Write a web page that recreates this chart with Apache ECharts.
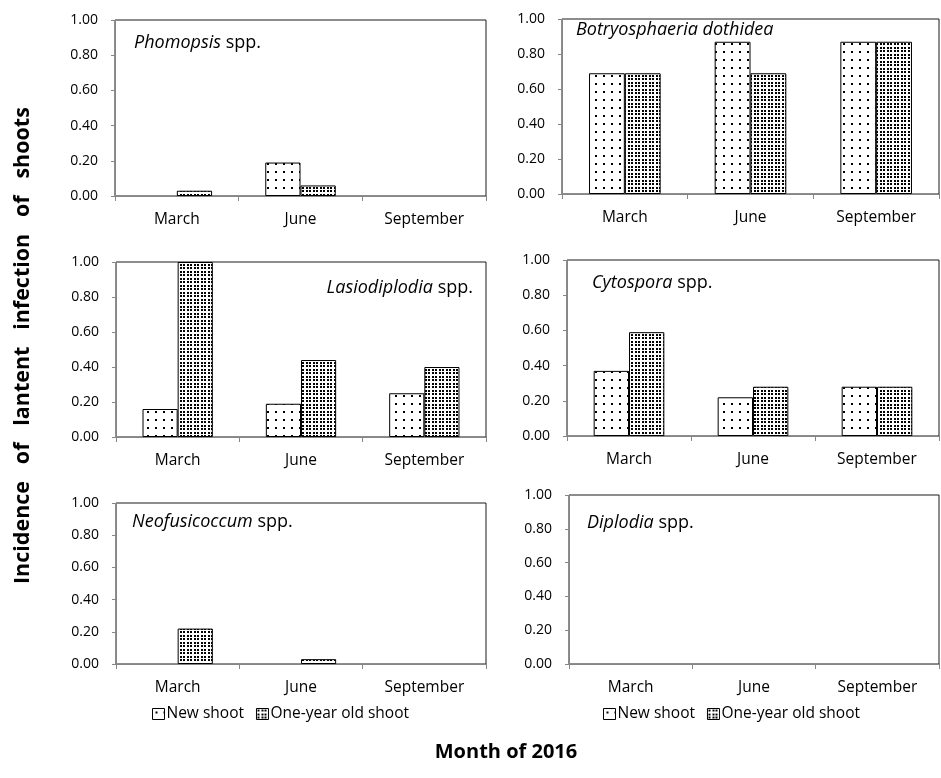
<!DOCTYPE html>
<html>
<head>
<meta charset="utf-8">
<script src="https://cdn.jsdelivr.net/npm/echarts@6/dist/echarts.min.js"></script>
<style>
  html, body { margin: 0; padding: 0; background: #fff; }
  #chart { width: 941px; height: 778px; }
</style>
</head>
<body>
<div id="chart"></div>
<script>
// Sampling months
const months = ['March', 'June', 'September'];

// Incidence of latent infection per genus: new shoots vs one-year old shoots
const phomopsisNew = [0.00, 0.19, 0.00];
const phomopsisOld = [0.03, 0.06, 0.00];
const botryosphaeriaNew = [0.69, 0.87, 0.87];
const botryosphaeriaOld = [0.69, 0.69, 0.87];
const lasiodiplodiaNew = [0.16, 0.19, 0.25];
const lasiodiplodiaOld = [1.00, 0.44, 0.40];
const cytosporaNew = [0.37, 0.22, 0.28];
const cytosporaOld = [0.59, 0.28, 0.28];
const neofusicoccumNew = [0.00, 0.00, 0.00];
const neofusicoccumOld = [0.22, 0.03, 0.00];
const diplodiaNew = [0.00, 0.00, 0.00];
const diplodiaOld = [0.00, 0.00, 0.00];

// Y tick labels
const yTicks = [0, 0.2, 0.4, 0.6, 0.8, 1.0];

const seriesNames = ['New shoot', 'One-year old shoot'];
const xTitle = 'Month of 2016';
const yTitleWords = ['Incidence', 'of', 'lantent', 'infection', 'of', 'shoots'];

const FONT = '"Open Sans", "Liberation Sans", sans-serif';

// Dot fill patterns for the two shoot ages
function sparseDots() {
  const c = document.createElement('canvas');
  c.width = 8; c.height = 8;
  const g = c.getContext('2d');
  g.fillStyle = '#fff'; g.fillRect(0, 0, 8, 8);
  g.fillStyle = '#000';
  g.fillRect(3, 3, 2, 2);
  return { image: c, repeat: 'repeat' };
}
function denseDots() {
  const c = document.createElement('canvas');
  c.width = 7; c.height = 7;
  const g = c.getContext('2d');
  g.fillStyle = '#fff'; g.fillRect(0, 0, 7, 7);
  g.fillStyle = '#000';
  [[0, 0], [4, 0], [0, 4], [4, 4]].forEach(([x, y]) => g.fillRect(x + 1, y + 1, 2, 2));
  return { image: c, repeat: 'repeat' };
}
const patNew = sparseDots();
const patOld = denseDots();

// Panel layout: grid box in pixels and the genus caption
const panels = [
  { newV: phomopsisNew, oldV: phomopsisOld, box: [115, 20, 371, 176],
    label: [['i', 'Phomopsis'], ['n', ' spp.']], lx: 134, ly: 43, align: 'left' },
  { newV: botryosphaeriaNew, oldV: botryosphaeriaOld, box: [562, 19, 377, 175],
    label: [['i', 'Botryosphaeria dothidea']], lx: 576, ly: 30, align: 'left' },
  { newV: lasiodiplodiaNew, oldV: lasiodiplodiaOld, box: [116, 262, 370, 175],
    label: [['i', 'Lasiodiplodia'], ['n', ' spp.']], lx: 473, ly: 288, align: 'right' },
  { newV: cytosporaNew, oldV: cytosporaOld, box: [567, 260, 372, 176],
    label: [['i', 'Cytospora'], ['n', ' spp.']], lx: 592, ly: 283, align: 'left' },
  { newV: neofusicoccumNew, oldV: neofusicoccumOld, box: [116, 503, 370, 161],
    label: [['i', 'Neofusicoccum'], ['n', ' spp.']], lx: 132, ly: 522, align: 'left' },
  { newV: diplodiaNew, oldV: diplodiaOld, box: [569, 495, 370, 169],
    label: [['i', 'Diplodia'], ['n', ' spp.']], lx: 587, ly: 523, align: 'left' }
];

const grid = [], xAxis = [], yAxis = [], series = [], graphic = [];

function barData(arr) {
  // zero-height bars carry no outline
  return arr.map(v => v === 0 ? { value: 0, itemStyle: { borderWidth: 0 } } : v);
}

panels.forEach((p, i) => {
  const [l, t, w, h] = p.box;
  grid.push({ left: l, top: t, width: w, height: h, show: true,
    borderColor: '#1a1a1a', borderWidth: 1, backgroundColor: '#fff' });
  xAxis.push({
    type: 'category', gridIndex: i, data: months,
    axisLine: { lineStyle: { color: '#868686', width: 1 } },
    axisTick: { show: true, length: 5, lineStyle: { color: '#868686' } },
    axisLabel: { color: '#000', fontSize: 15.5, fontFamily: FONT, margin: 16 }
  });
  yAxis.push({
    type: 'value', gridIndex: i, min: yTicks[0], max: yTicks[yTicks.length - 1], interval: 0.2,
    axisLine: { show: true, lineStyle: { color: '#868686', width: 1 } },
    axisTick: { show: true, length: 4, lineStyle: { color: '#868686' } },
    splitLine: { show: false },
    axisLabel: { color: '#000', fontSize: 14, fontFamily: FONT, margin: 17,
      formatter: v => v.toFixed(2) }
  });
  series.push({
    name: seriesNames[0], type: 'bar', xAxisIndex: i, yAxisIndex: i,
    data: barData(p.newV), barGap: '0%', barCategoryGap: '43%',
    itemStyle: { color: patNew, borderColor: '#000', borderWidth: 1 },
    emphasis: { disabled: true }, animation: false
  });
  series.push({
    name: seriesNames[1], type: 'bar', xAxisIndex: i, yAxisIndex: i,
    data: barData(p.oldV), barGap: '0%', barCategoryGap: '43%',
    itemStyle: { color: patOld, borderColor: '#000', borderWidth: 1 },
    emphasis: { disabled: true }, animation: false
  });
  graphic.push({
    type: 'text', x: p.lx, y: p.ly, z: 100,
    style: {
      text: p.label.map(([k, s]) => '{' + k + '|' + s + '}').join(''),
      textAlign: p.align, textVerticalAlign: 'middle',
      rich: {
        i: { fontStyle: 'italic', fontSize: 18, fontFamily: FONT, fill: '#000' },
        n: { fontSize: 18, fontFamily: FONT, fill: '#000' }
      }
    }
  });
});

// Axis titles shared by all panels (the vertical one is set with wide word spacing)
graphic.push({
  type: 'text', x: 23, y: 584, rotation: Math.PI / 2, z: 100,
  style: { text: yTitleWords.join('   '), textAlign: 'left', textVerticalAlign: 'middle',
    font: 'bold 21.5px ' + FONT, fill: '#000' }
});
graphic.push({
  type: 'text', x: 506, y: 752, z: 100,
  style: { text: xTitle, textAlign: 'center', textVerticalAlign: 'middle',
    font: 'bold 20px ' + FONT, fill: '#000' }
});

const legendBase = {
  data: seriesNames, icon: 'rect', itemWidth: 12, itemHeight: 11, itemGap: 12,
  selectedMode: false,
  textStyle: { color: '#000', fontSize: 15.5, fontFamily: FONT, padding: [0, 0, 0, -3] },
  itemStyle: { borderColor: '#000', borderWidth: 1 }
};

const chart = echarts.init(document.getElementById('chart'), null, { renderer: 'canvas' });
chart.setOption({
  animation: false,
  backgroundColor: '#fff',
  grid, xAxis, yAxis, series, graphic,
  legend: [
    Object.assign({}, legendBase, { left: 147, top: 701 }),
    Object.assign({}, legendBase, { left: 598, top: 701 })
  ]
});
</script>
</body>
</html>
